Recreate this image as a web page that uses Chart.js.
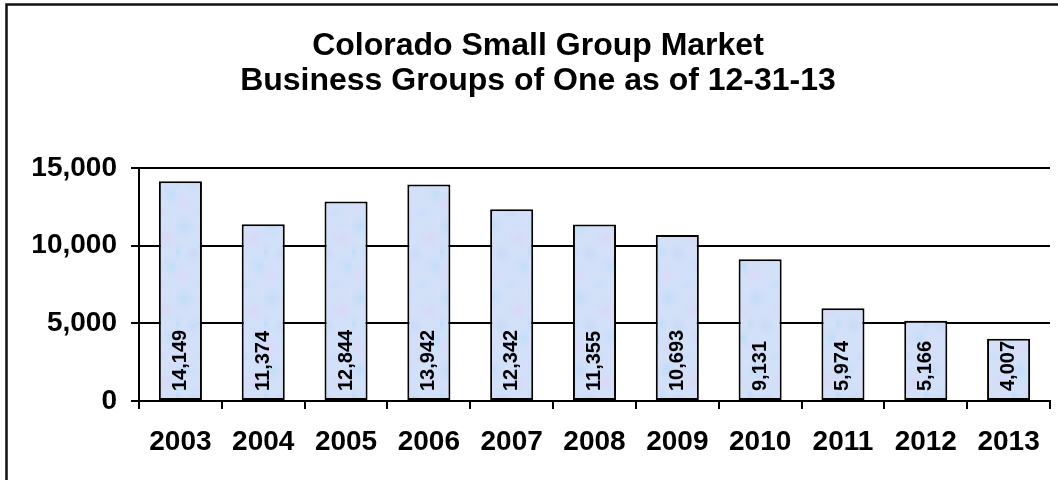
<!DOCTYPE html>
<html>
<head>
<meta charset="utf-8">
<style>
  html, body { margin: 0; padding: 0; background: #ffffff; }
  #wrap { width: 1058px; height: 480px; position: relative; }
  canvas { display: block; }
</style>
<script src="https://cdn.jsdelivr.net/npm/chart.js@4/dist/chart.umd.min.js"></script>
</head>
<body>
<div id="wrap"><canvas id="chart" width="1058" height="480"></canvas></div>
<script>
// Business groups of one, year-end counts
const years = ['2003', '2004', '2005', '2006', '2007', '2008', '2009', '2010', '2011', '2012', '2013'];
const groupsOfOne = [14149, 11374, 12844, 13942, 12342, 11355, 10693, 9131, 5974, 5166, 4007];
const yTicks = [0, 5000, 10000, 15000];
const titleLines = ['Colorado Small Group Market', 'Business Groups of One as of 12-31-13'];

const FONT = '"Liberation Sans", Arial, Helvetica, sans-serif';
const fmt = v => v.toLocaleString('en-US');

// Soft blue / lavender mottled fill for the bars
function makeBarPattern(ctx) {
  const tile = document.createElement('canvas');
  tile.width = 44; tile.height = 72;
  const t = tile.getContext('2d');
  t.fillStyle = '#d2e0f8';
  t.fillRect(0, 0, 44, 72);
  const blobs = [
    [8, 10, 14, 'rgba(190,220,248,0.9)'],
    [34, 22, 14, 'rgba(220,214,246,0.9)'],
    [18, 38, 13, 'rgba(200,216,246,0.85)'],
    [40, 50, 13, 'rgba(188,222,250,0.9)'],
    [6, 60, 13, 'rgba(222,216,248,0.9)'],
    [26, 70, 10, 'rgba(196,222,250,0.85)'],
    [44, 2, 10, 'rgba(224,222,250,0.8)'],
    [0, 36, 10, 'rgba(186,218,248,0.85)']
  ];
  blobs.forEach(([x, y, r, c]) => {
    const g = t.createRadialGradient(x, y, 0, x, y, r);
    g.addColorStop(0, c);
    g.addColorStop(1, 'rgba(210,224,248,0)');
    t.fillStyle = g;
    t.beginPath(); t.arc(x, y, r, 0, Math.PI * 2); t.fill();
  });
  return ctx.createPattern(tile, 'repeat');
}

// Outer frame and two-line heading
const frameAndTitle = {
  id: 'frameAndTitle',
  beforeDraw(chart) {
    const ctx = chart.ctx;
    ctx.save();
    ctx.fillStyle = '#ffffff';
    ctx.fillRect(0, 0, chart.width, chart.height);
    ctx.strokeStyle = '#111111';
    ctx.lineWidth = 2.5;
    ctx.strokeRect(6.5, 4.5, chart.width + 20, chart.height + 20);
    ctx.fillStyle = '#000000';
    ctx.font = 'bold 32px ' + FONT;
    ctx.textAlign = 'center';
    ctx.textBaseline = 'middle';
    ctx.fillText(titleLines[0], 538, 46);
    ctx.fillText(titleLines[1], 538, 81);
    ctx.restore();
  }
};

// Rotated value labels inside each bar
const barValueLabels = {
  id: 'barValueLabels',
  afterDatasetsDraw(chart) {
    const ctx = chart.ctx;
    const meta = chart.getDatasetMeta(0);
    const ds = chart.data.datasets[0];
    ctx.save();
    ctx.fillStyle = '#000000';
    ctx.font = 'bold 20px ' + FONT;
    ctx.textAlign = 'left';
    ctx.textBaseline = 'middle';
    meta.data.forEach((bar, i) => {
      ctx.save();
      ctx.translate(bar.x, bar.base - 9);
      ctx.rotate(-Math.PI / 2);
      ctx.fillText(fmt(ds.data[i]), 0, 0);
      ctx.restore();
    });
    ctx.restore();
  }
};

const ctx = document.getElementById('chart').getContext('2d');
new Chart(ctx, {
  type: 'bar',
  data: {
    labels: years,
    datasets: [{
      data: groupsOfOne,
      backgroundColor: makeBarPattern(ctx),
      borderColor: '#000000',
      borderWidth: 2,
      borderSkipped: false,
      barPercentage: 0.52,
      categoryPercentage: 1.0
    }]
  },
  options: {
    responsive: false,
    animation: false,
    events: [],
    layout: { padding: { left: 6, top: 168, right: 8, bottom: 0 } },
    plugins: {
      legend: { display: false },
      title: { display: false },
      tooltip: { enabled: false }
    },
    scales: {
      x: {
        afterFit(scale) { scale.height = 79; },
        grid: {
          display: true,
          offset: true,
          drawOnChartArea: false,
          drawTicks: true,
          tickLength: 8,
          color: '#000000',
          lineWidth: 2
        },
        border: { display: true, color: '#000000', width: 2 },
        ticks: {
          color: '#000000',
          font: { family: FONT, size: 28, weight: 'bold' },
          padding: 16,
          maxRotation: 0,
          autoSkip: false
        }
      },
      y: {
        min: 0,
        max: 15000,
        afterFit(scale) { scale.width = 133; },
        afterBuildTicks(scale) { scale.ticks = yTicks.map(v => ({ value: v })); },
        grid: {
          display: true,
          drawTicks: true,
          tickLength: 8,
          color: '#000000',
          lineWidth: 2
        },
        border: { display: true, color: '#000000', width: 2 },
        ticks: {
          color: '#000000',
          font: { family: FONT, size: 28, weight: 'bold' },
          padding: 14,
          callback: v => fmt(v)
        }
      }
    }
  },
  plugins: [frameAndTitle, barValueLabels]
});
</script>
</body>
</html>
